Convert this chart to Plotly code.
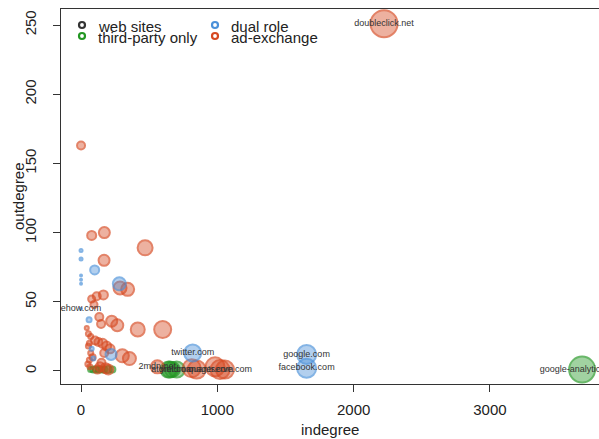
import plotly.graph_objects as go

# ---- data ----
ad_x = [0, 2223, 78, 171, 470, 169, 286, 342, 78, 115, 164, 95, 134, 147, 225, 266, 416, 599,
        42, 54, 71, 103, 127, 159, 188, 213, 303, 355, 61, 54, 71, 61, 139, 180, 200, 120,
        560, 812, 849, 983, 1020, 1056, 50, 65, 85, 150, 170]
ad_y = [163, 251, 98, 100, 89, 80, 60, 59, 52, 54, 55, 48, 39, 34, 36, 33, 30, 30,
        31, 27, 25, 22, 21, 20, 18, 16, 11, 9, 20, 18, 13, 8, 3, 2, 1, 1,
        3, 2, 1, 3, 1, 1, 5, 3, 10, 6, 13]
ad_s = [8, 27, 9, 11, 15, 11, 13, 13, 7, 8, 9, 7, 8, 8, 11, 12, 14, 17,
        4, 5, 5, 8, 8, 9, 9, 9, 13, 13, 5, 5, 5, 5, 9, 10, 10, 8,
        13, 18, 18, 19, 19, 18, 5, 5, 6, 8, 8]

dual_x = [0, 0, 0, 0, 0, 0, 100, 281, 59, 220, 78, 90, 819, 1655, 1655]
dual_y = [87, 81, 69, 66, 63, 45, 73, 63, 37, 12, 16, 9, 13, 12, 2]
dual_s = [3, 3, 2, 2, 2, 2, 9, 13, 5, 11, 4, 4, 17, 19, 19]

third_x = [3676, 641, 653, 702, 670, 70, 90, 110, 130, 150, 170, 200, 230]
third_y = [1, 1, 1, 1, 1, 1, 1, 1, 1, 1, 1, 1, 1]
third_s = [26, 16, 16, 16, 15, 5, 6, 6, 6, 6, 6, 7, 6]

label_text = ["doubleclick.net", "google-analytics.com", "google.com", "facebook.com",
              "twitter.com", "ehow.com", "2mdn.net", "atdmt.com", "yieldmanager.com",
              "quantserve.com"]
label_x = [2223, 3676, 1655, 1655, 819, 0, 560, 670, 849, 1020]
label_y = [251, 1, 12, 2, 13, 45, 3, 1, 1, 1]

legend_names = ["web sites", "third-party only", "dual role", "ad-exchange"]
legend_colors = ["#333333", "#229622", "#4A90D9", "#D64820"]

x_ticks = [0, 1000, 2000, 3000]
y_ticks = [0, 50, 100, 150, 200, 250]

# ---- figure ----
W, H = 599, 439
ML, MR, MT, MB = 61, 0, 9, 55
fig = go.Figure()

def add_series(xs, ys, ss, col, name):
    r, g, b = int(col[1:3], 16), int(col[3:5], 16), int(col[5:7], 16)
    fig.add_trace(go.Scatter(
        x=xs, y=ys, mode="markers", name=name, showlegend=False,
        marker=dict(size=ss, color=f"rgba({r},{g},{b},0.6)",
                    line=dict(color=f"rgba({r},{g},{b},0.95)", width=2)),
        cliponaxis=False))

add_series(third_x, third_y, third_s, legend_colors[1], legend_names[1])
add_series(ad_x, ad_y, ad_s, legend_colors[3], legend_names[3])
add_series(dual_x, dual_y, dual_s, legend_colors[2], legend_names[2])

fig.add_trace(go.Scatter(
    x=label_x, y=label_y, mode="text", text=label_text, showlegend=False,
    textposition="middle center",
    textfont=dict(family="Liberation Sans, Arial", size=9, color="#333333"),
    cliponaxis=False))

axis_font = dict(family="Liberation Sans, Arial", size=15, color="#222222")
fig.update_xaxes(range=[-147, 3800], tickvals=x_ticks, ticks="outside", ticklen=7,
                 tickcolor="#333", showline=True, linecolor="#333", linewidth=1,
                 mirror=True, showgrid=False, zeroline=False, tickfont=axis_font,
                 ticklabelstandoff=5, automargin=False)
fig.update_yaxes(range=[-9.4, 261.6], tickvals=y_ticks, ticks="outside", ticklen=7,
                 tickcolor="#333", showline=True, linecolor="#333", linewidth=1,
                 mirror=False, showgrid=False, zeroline=False, tickfont=axis_font,
                 tickangle=-90, ticklabelstandoff=11, automargin=False)

pw, ph = W - ML - MR, H - MT - MB
def px(v): return (v - ML) / pw
def py(v): return (H - MB - v) / ph

annotations = [
    dict(text="indegree", x=px(330), y=py(429), xref="paper", yref="paper",
         showarrow=False, font=axis_font, xanchor="center", yanchor="middle"),
    dict(text="outdegree", x=px(18), y=py(196), xref="paper", yref="paper",
         showarrow=False, font=axis_font, textangle=-90, xanchor="center", yanchor="middle"),
]
shapes = []
leg_pos = [(82, 25), (82, 36), (215, 25), (215, 36)]
for name, col, (bx, by) in zip(legend_names, legend_colors, leg_pos):
    shapes.append(dict(type="circle", xref="paper", yref="paper",
                       xsizemode="pixel", ysizemode="pixel",
                       xanchor=px(bx), yanchor=py(by), x0=-3, x1=3, y0=-3, y1=3,
                       line=dict(color=col, width=2.2), fillcolor="rgba(255,255,255,0.3)"))
    annotations.append(dict(text=name, x=px(bx + 14), y=py(by + 1), xref="paper", yref="paper",
                            showarrow=False, xanchor="left", yanchor="middle",
                            font=dict(family="Liberation Sans, Arial", size=15, color="#222222")))

fig.update_layout(width=W, height=H, margin=dict(l=ML, r=MR, t=MT, b=MB),
                  plot_bgcolor="white", paper_bgcolor="white",
                  annotations=annotations, shapes=shapes, showlegend=False)
fig.write_html("out.html", config={"displayModeBar": False},
               post_script="document.body.style.margin='0';document.body.style.overflow='hidden';")
